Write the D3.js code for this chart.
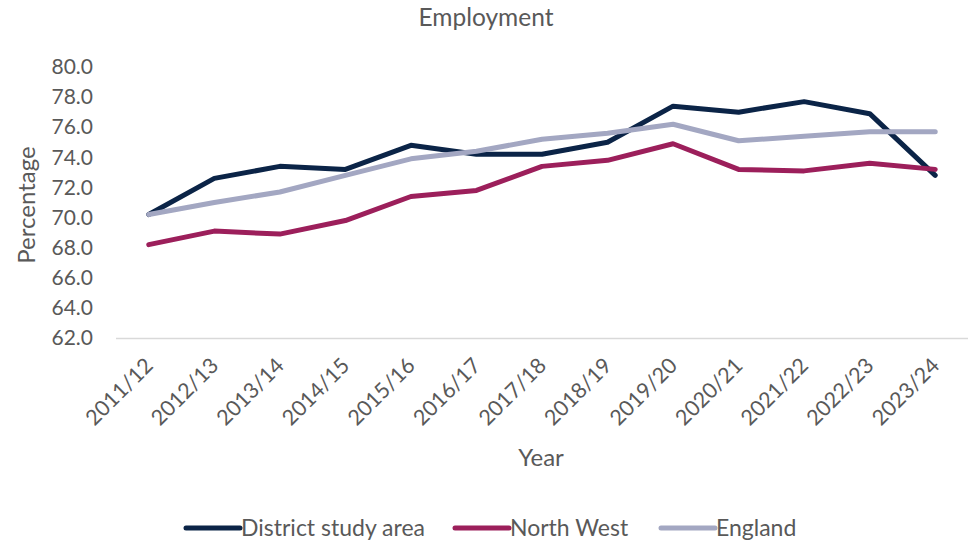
<!DOCTYPE html>
<html>
<head>
<meta charset="utf-8">
<script src="https://cdn.jsdelivr.net/npm/d3@7"></script>
<style>
  html, body { margin: 0; padding: 0; background: #fff; }
  svg { display: block; font-family: Lato, "Open Sans", sans-serif; }
</style>
</head>
<body>
<svg id="chart" width="970" height="542"></svg>
<script>
// Employment rate (%) by financial year
const years = ["2011/12","2012/13","2013/14","2014/15","2015/16","2016/17","2017/18",
               "2018/19","2019/20","2020/21","2021/22","2022/23","2023/24"];
const districtStudyArea = [70.2, 72.6, 73.4, 73.2, 74.8, 74.2, 74.2, 75.0, 77.4, 77.0, 77.7, 76.9, 72.8];
const northWest         = [68.2, 69.1, 68.9, 69.8, 71.4, 71.8, 73.4, 73.8, 74.9, 73.2, 73.1, 73.6, 73.2];
const england           = [70.2, 71.0, 71.7, 72.8, 73.9, 74.4, 75.2, 75.6, 76.2, 75.1, 75.4, 75.7, 75.7];
const yTicks = [62, 64, 66, 68, 70, 72, 74, 76, 78, 80];
const seriesNames = ["District study area", "North West", "England"];

const series = [
  { name: seriesNames[0], values: districtStudyArea, color: "#0b2447" },
  { name: seriesNames[1], values: northWest,         color: "#9c1f5b" },
  { name: seriesNames[2], values: england,           color: "#a3a7c2" }
];

const svg = d3.select("#chart");
const textColor = "#595959";
const margin = { left: 116, right: 968, top: 67, bottom: 338 };

const x = d3.scalePoint().domain(years).range([margin.left, margin.right]).padding(0.5);
const y = d3.scaleLinear().domain([62, 80]).range([margin.bottom, margin.top]);

// Title
svg.append("text")
  .attr("x", 486).attr("y", 26)
  .attr("text-anchor", "middle")
  .attr("fill", textColor)
  .style("font-size", "24.5px")
  .text("Employment");

// Y axis tick labels
const yAxis = d3.axisLeft(y).tickValues(yTicks).tickFormat(d3.format(".1f")).tickSize(0).tickPadding(0);
const yG = svg.append("g").attr("transform", `translate(93,0)`).call(yAxis);
yG.select(".domain").remove();
yG.selectAll("text").attr("fill", textColor).style("font-size", "21px").attr("font-family", "Lato, 'Open Sans', sans-serif");

// X axis baseline and rotated labels
const xAxis = d3.axisBottom(x).tickSize(0).tickPadding(0);
const xG = svg.append("g").attr("transform", `translate(0,${margin.bottom})`).call(xAxis);
xG.select(".domain").attr("stroke", "#d9d9d9").attr("stroke-width", 1.3)
  .attr("d", `M${margin.left},0.5H${margin.right}`);
xG.selectAll("text")
  .attr("fill", textColor)
  .style("font-size", "21.5px")
  .attr("font-family", "Lato, 'Open Sans', sans-serif")
  .attr("text-anchor", "end")
  .attr("dy", "0")
  .attr("transform", "translate(5,29) rotate(-45)");

// Axis titles
svg.append("text")
  .attr("transform", "translate(35,205) rotate(-90)")
  .attr("text-anchor", "middle")
  .attr("fill", textColor)
  .style("font-size", "24px")
  .text("Percentage");

svg.append("text")
  .attr("x", 541).attr("y", 466)
  .attr("text-anchor", "middle")
  .attr("fill", textColor)
  .style("font-size", "24px")
  .text("Year");

// Lines
const line = d3.line()
  .x((d, i) => x(years[i]))
  .y(d => y(d));

svg.append("g").selectAll("path")
  .data(series)
  .join("path")
  .attr("d", d => line(d.values))
  .attr("fill", "none")
  .attr("stroke", d => d.color)
  .attr("stroke-width", 5)
  .attr("stroke-linejoin", "round")
  .attr("stroke-linecap", "round");

// Legend
const legendX = [186, 455, 661];
const lg = svg.append("g").selectAll("g")
  .data(series)
  .join("g")
  .attr("transform", (d, i) => `translate(${legendX[i]},528)`);
lg.append("line")
  .attr("x1", 0).attr("x2", 54).attr("y1", 0).attr("y2", 0)
  .attr("stroke", d => d.color).attr("stroke-width", 5).attr("stroke-linecap", "round");
lg.append("text")
  .attr("x", 55).attr("y", 8)
  .attr("fill", textColor)
  .style("font-size", "23px")
  .text(d => d.name);
</script>
</body>
</html>
